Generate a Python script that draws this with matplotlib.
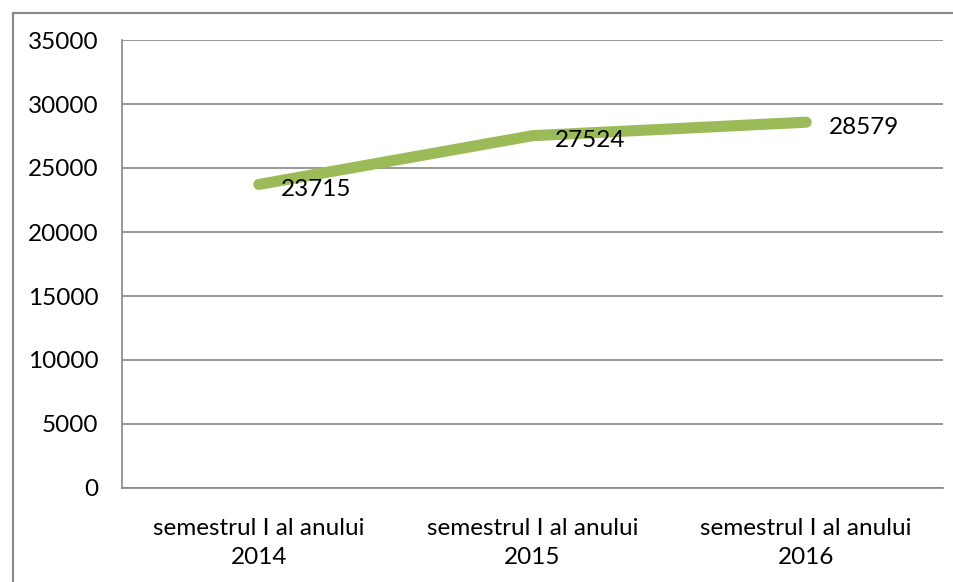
import matplotlib.pyplot as plt
from matplotlib.lines import Line2D

categories = ["semestrul I al anului\n2014", "semestrul I al anului\n2015", "semestrul I al anului\n2016"]
values = [23715, 27524, 28579]
yticks = [0, 5000, 10000, 15000, 20000, 25000, 30000, 35000]

plt.rcParams['font.family'] = ['Lato', 'DejaVu Sans']
fs = 17.5

fig = plt.figure(figsize=(9.54, 5.82), dpi=100)
ax = fig.add_axes([122/954, 1-488/582, (943-122)/954, (488-40)/582])

# chart border: only left and top edges are visible in the original
bx, by = 13.5/954, 1 - 12.5/582
fig.lines.append(Line2D([bx, bx], [0, by], transform=fig.transFigure,
                        color="#888888", linewidth=1.5))
fig.lines.append(Line2D([bx, 1], [by, by], transform=fig.transFigure,
                        color="#888888", linewidth=1.5))

x = list(range(len(categories)))
ax.plot(x, values, color="#9BBB59", linewidth=8, solid_capstyle="round", zorder=3)

for xi, v in zip(x, values):
    ax.annotate(str(v), (xi, v), xytext=(16, -3.5), textcoords="offset points",
                ha="left", va="center", fontsize=fs, color="black", zorder=4)

ax.set_xlim(-0.5, len(categories) - 0.5)
ax.set_ylim(0, 35000)
ax.set_yticks(yticks)
ax.set_yticklabels([str(t) for t in yticks])
ax.set_xticks(x)
ax.set_xticklabels(categories, linespacing=1.5)
ax.tick_params(axis="both", length=0, labelsize=fs)
ax.tick_params(axis="y", pad=17)
ax.tick_params(axis="x", pad=21.5)

ax.grid(axis="y", color="#888888", linewidth=1.2)
ax.set_axisbelow(True)
for side in ["top", "right"]:
    ax.spines[side].set_visible(False)
for side in ["left", "bottom"]:
    ax.spines[side].set_color("#888888")
    ax.spines[side].set_linewidth(1.2)

plt.savefig("out.png", dpi=100)
